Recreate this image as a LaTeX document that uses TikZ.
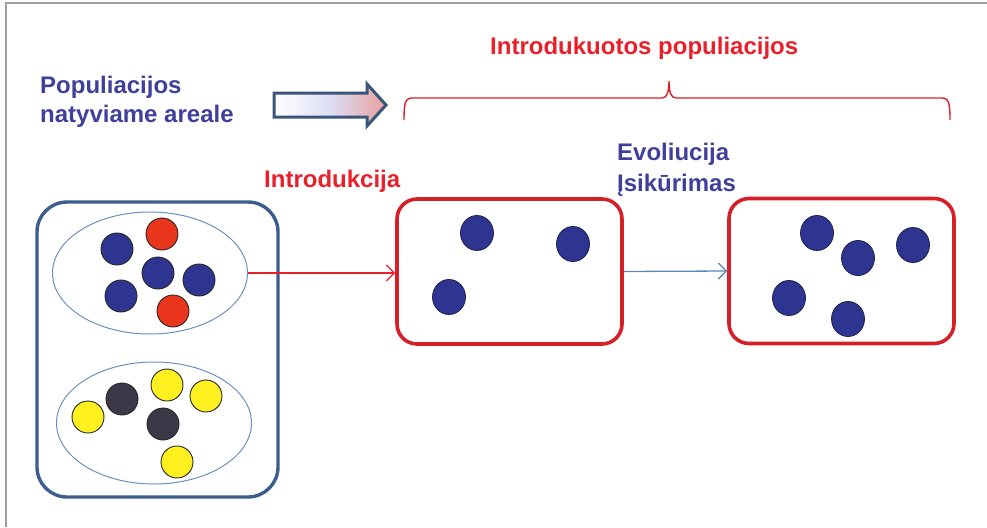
\documentclass[tikz,border=0pt]{standalone}
\usepackage{fontspec}
\setmainfont{Liberation Sans}
\usetikzlibrary{shapes.geometric,arrows.meta}
\definecolor{navytxt}{RGB}{64,64,156}
\definecolor{redtxt}{RGB}{232,32,42}
\definecolor{boxred}{RGB}{214,32,39}
\definecolor{boxblue}{RGB}{60,94,140}
\definecolor{ellblue}{RGB}{106,143,191}
\definecolor{dotblue}{RGB}{46,53,144}
\definecolor{dotred}{RGB}{234,54,28}
\definecolor{dotyellow}{RGB}{255,240,32}
\definecolor{dotdark}{RGB}{61,56,72}
\definecolor{arrowblue}{RGB}{91,133,184}
\definecolor{frame}{RGB}{160,160,160}
\definecolor{arrowedge}{RGB}{59,85,120}
\definecolor{pinkend}{RGB}{232,160,160}
\definecolor{lavmid}{RGB}{220,222,244}
\tikzset{
  lbl/.style={font=\bfseries\fontsize{24}{29}\selectfont, inner sep=0pt, anchor=north west, align=left},
  dot/.style={circle, draw=black!85, line width=0.9pt, minimum size=32pt, inner sep=0pt},
  bdot/.style={ellipse, draw={rgb,255:red,30;green,32;blue,80}, line width=0.8pt, fill=dotblue, minimum width=33pt, minimum height=35pt, inner sep=0pt},
  redbox/.style={rectangle, rounded corners=20pt, draw=boxred, line width=3.6pt, minimum width=225pt, minimum height=145pt, inner sep=0pt},
  popell/.style={ellipse, draw=ellblue, line width=1pt, minimum width=195pt, minimum height=122pt, inner sep=0pt},
  conn/.style={line width=1.3pt, -{Straight Barb[length=8pt,width=16pt,line width=1.3pt]}}
}
\begin{document}
\begin{tikzpicture}[x=1pt,y=-1pt]
\useasboundingbox (0,0) rectangle (987,527);
% frame
\draw[frame, line width=1.5pt] (6,527) -- (6,3) -- (987,3);
% texts
\node[lbl, text=navytxt] (native) at (40,76) {Populiacijos\\natyviame areale};
\node[lbl, text=redtxt] (introd) at (490,37) {Introdukuotos populiacijos};
\node[lbl, text=redtxt] (intro) at (264,170) {Introdukcija};
\node[lbl, text=navytxt, font=\bfseries\fontsize{24}{31}\selectfont] (evo) at (617,143) {Evoliucija\\Įsikūrimas};
% hollow arrow
\path[draw=arrowedge, line width=3pt, line join=miter, left color=white, right color=pinkend, middle color=lavmid]
  (274,93) -- (367,93) -- (367,84) -- (386,105) -- (367,126) -- (367,117) -- (274,117) -- cycle;
% brace
\draw[boxred, line width=1.4pt]
  (404,120) .. controls (404,104) and (405,98) .. (412,98) -- (662,98)
  .. controls (667,98) and (669,92) .. (669,81)
  .. controls (669,92) and (671,98) .. (676,98) -- (942,98)
  .. controls (949,98) and (950,104) .. (950,120);
% boxes
\node[rectangle, rounded corners=30pt, draw=boxblue, line width=3.4pt, minimum width=241pt, minimum height=295pt, inner sep=0pt] (b1) at (157.5,349.5) {};
\node[redbox] (b2) at (509.5,271.5) {};
\node[redbox] (b3) at (841.5,271) {};
% ellipses
\node[popell] (e1) at (150,273) {};
\node[popell] (e2) at (154,423) {};
% dots in upper ellipse
\node[dot, fill=dotblue] (u1) at (117,249) {};
\node[dot, fill=dotred] (u2) at (162,234) {};
\node[dot, fill=dotblue] (u3) at (158,273) {};
\node[dot, fill=dotblue] (u4) at (199,280) {};
\node[dot, fill=dotblue] (u5) at (121,296) {};
\node[dot, fill=dotred] (u6) at (173,311) {};
% dots in lower ellipse
\node[dot, fill=dotyellow] (l1) at (88,417) {};
\node[dot, fill=dotdark] (l2) at (122,399) {};
\node[dot, fill=dotyellow] (l3) at (167,385) {};
\node[dot, fill=dotyellow] (l4) at (206,396) {};
\node[dot, fill=dotdark] (l5) at (163,424) {};
\node[dot, fill=dotyellow] (l6) at (177,462) {};
% dots in box 2
\node[bdot] (m1) at (477,233) {};
\node[bdot] (m2) at (573,244) {};
\node[bdot] (m3) at (449,297) {};
% dots in box 3
\node[bdot] (r1) at (817,233) {};
\node[bdot] (r2) at (858,258) {};
\node[bdot] (r3) at (913,245) {};
\node[bdot] (r4) at (789,298) {};
\node[bdot] (r5) at (848,319) {};
% connectors
\draw[conn, redtxt] (e1.east) -- (e1.east -| b2.west);
\draw[conn, arrowblue] (b2.east) -- (b3.west);
\end{tikzpicture}
\end{document}
